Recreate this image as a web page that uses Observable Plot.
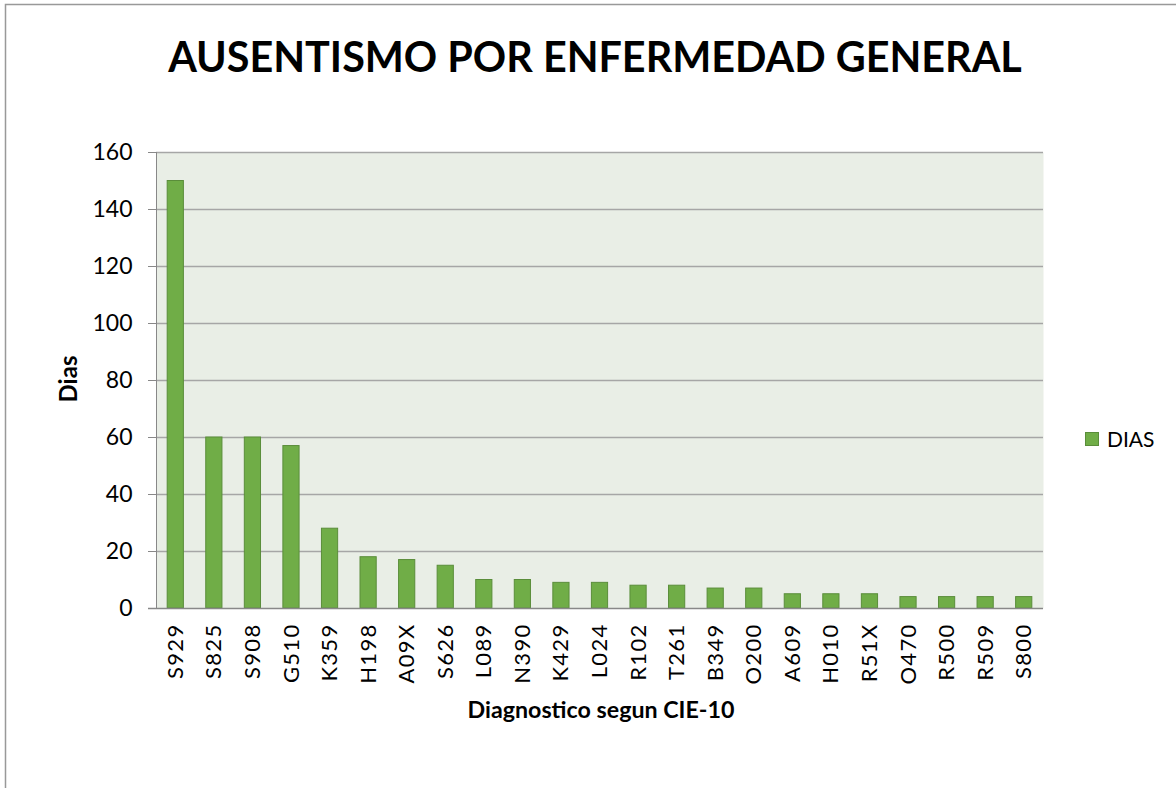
<!DOCTYPE html>
<html><head><meta charset="utf-8">
<script src="https://cdn.jsdelivr.net/npm/d3@7"></script>
<script src="https://cdn.jsdelivr.net/npm/@observablehq/plot@0.6"></script>
<style>
html,body{margin:0;padding:0;background:#fff;}
#wrap{position:relative;width:1176px;height:788px;overflow:hidden;font-family:Lato,sans-serif;background:#fff;}
#chart{position:absolute;left:0;top:0;}
#overlay{position:absolute;left:0;top:0;pointer-events:none;}
</style></head><body>
<div id="wrap"><div id="chart"></div><svg id="overlay" width="1176" height="788"></svg></div>
<script>
const codes = ["S929","S825","S908","G510","K359","H198","A09X","S626","L089","N390","K429","L024","R102","T261","B349","O200","A609","H010","R51X","O470","R500","R509","S800"];
const dias  = [150,60,60,57,28,18,17,15,10,10,9,9,8,8,7,7,5,5,5,4,4,4,4];
const seriesName = "DIAS";
const yTicks = [0,20,40,60,80,100,120,140,160];
const titleText = "AUSENTISMO POR ENFERMEDAD GENERAL";
const xTitle = "Diagnostico segun CIE-10";
const yTitle = "Dias";

const data = codes.map((c, i) => ({code: c, dias: dias[i]}));
const barFill = "#70ad47", barStroke = "#5a8d3a";

const chart = Plot.plot({
  width: 1176, height: 788,
  marginLeft: 156, marginRight: 133, marginTop: 152, marginBottom: 180,
  style: {fontFamily: "Lato, sans-serif", background: "transparent", color: "#000"},
  x: {domain: codes, paddingInner: 0.58, paddingOuter: 0.29, round: false, label: null},
  y: {domain: [0, 160], label: null},
  marks: [
    Plot.frame({fill: "#e9eee6", stroke: null}),
    Plot.ruleY(yTicks.filter(d => d > 0), {stroke: "#a6a6a6", strokeWidth: 1.4}),
    Plot.barY(data, {x: "code", y: "dias", fill: barFill, stroke: barStroke, strokeWidth: 1}),
    Plot.frame({anchor: "left", stroke: "#888"}),
    Plot.ruleY([0], {stroke: "#888", strokeWidth: 1.4, insetLeft: -8}),
    Plot.axisY({ticks: yTicks, tickSize: 8, tickPadding: 16, stroke: "#888", fill: "#000", fontSize: 23, label: null}),
    Plot.axisX({tickSize: 0, tickRotate: -90, tickPadding: 15, fill: "#000", fontSize: 22, label: null})
  ]
});
document.getElementById("chart").appendChild(chart);
d3.select(chart).selectAll('g[aria-label="x-axis tick label"] text').style("letter-spacing", "1.3px");

const ov = d3.select("#overlay");
// outer chart border
ov.append("path").attr("d", "M5.5,788 V4.5 H1176").attr("fill", "none").attr("stroke", "#999").attr("stroke-width", 1.5);

function fit(sel, target) {
  const w = sel.node().getComputedTextLength();
  const fs = parseFloat(sel.attr("font-size"));
  sel.attr("font-size", fs * target / w);
}
const t = ov.append("text").attr("x", 595).attr("y", 72).attr("text-anchor", "middle")
  .attr("font-family", "Lato, sans-serif").attr("font-weight", 700).attr("font-size", 40).text(titleText);
fit(t, 854);
const xt = ov.append("text").attr("x", 601).attr("y", 718).attr("text-anchor", "middle")
  .attr("font-family", "Lato, sans-serif").attr("font-weight", 700).attr("font-size", 19).text(xTitle);
fit(xt, 267);
ov.append("text").attr("transform", "translate(77,379) rotate(-90)").attr("text-anchor", "middle")
  .attr("font-family", "Lato, sans-serif").attr("font-weight", 700).attr("font-size", 24).text(yTitle);
// legend
ov.append("rect").attr("x", 1085.5).attr("y", 432.5).attr("width", 13).attr("height", 13)
  .attr("fill", barFill).attr("stroke", barStroke);
ov.append("text").attr("x", 1107).attr("y", 447).attr("font-family", "Lato, sans-serif")
  .attr("font-size", 21).text(seriesName);
</script>
</body></html>
